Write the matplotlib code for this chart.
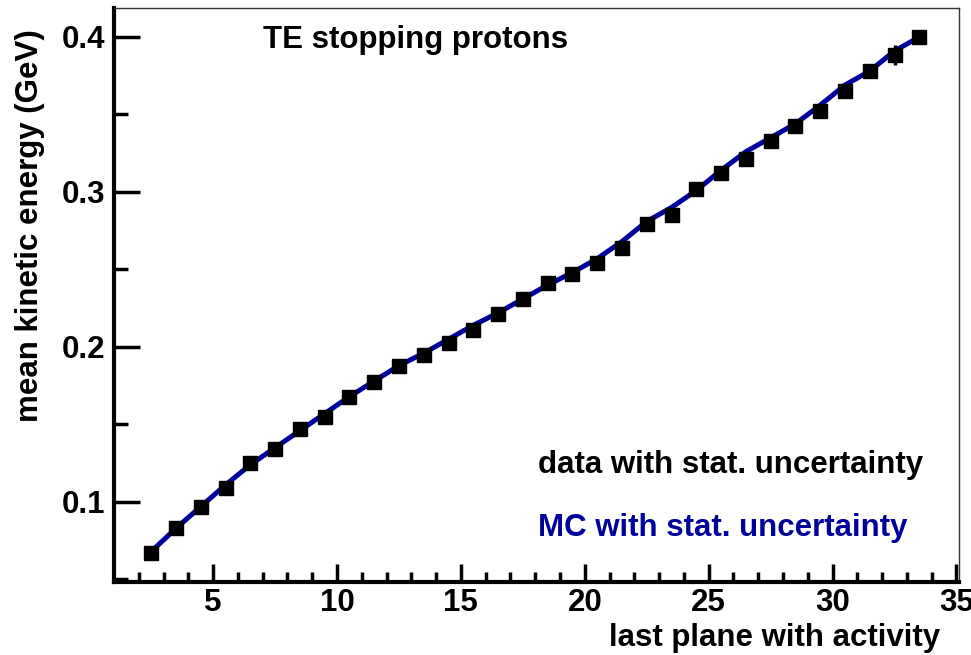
import matplotlib
matplotlib.use("Agg")
import matplotlib.pyplot as plt
import numpy as np

# --- données ---
plane = np.arange(2.5, 34.0, 1.0)
data_ke = [0.0673, 0.0832, 0.0970, 0.1088, 0.1254, 0.1340, 0.1469, 0.1546,
           0.1676, 0.1771, 0.1879, 0.1950, 0.2028, 0.2108, 0.2211, 0.2310,
           0.2411, 0.2469, 0.2545, 0.2637, 0.2794, 0.2852, 0.3017, 0.3125,
           0.3211, 0.3331, 0.3428, 0.3525, 0.3654, 0.3781, 0.3884, 0.3998]
data_err = [0.001, 0.001, 0.001, 0.001, 0.001, 0.001, 0.001, 0.001,
            0.001, 0.001, 0.001, 0.001, 0.001, 0.001, 0.001, 0.001,
            0.002, 0.002, 0.002, 0.002, 0.002, 0.002, 0.002, 0.002,
            0.003, 0.003, 0.003, 0.0045, 0.003, 0.003, 0.0065, 0.003]
mc_ke = [0.068, 0.083, 0.097, 0.111, 0.124, 0.135, 0.146, 0.157,
         0.168, 0.178, 0.188, 0.196, 0.205, 0.214, 0.222, 0.231,
         0.240, 0.248, 0.257, 0.268, 0.281, 0.290, 0.301, 0.314,
         0.326, 0.335, 0.344, 0.356, 0.369, 0.378, 0.391, 0.400]

mc_color = '#00009c'
fs = 22.5

plt.rcParams['font.family'] = ['Liberation Sans', 'DejaVu Sans']
plt.rcParams['font.weight'] = 'bold'

fig = plt.figure(figsize=(9.71, 6.55), dpi=100)
ax = fig.add_axes([0.1174, 0.1115, 0.8702, 0.8763])

# courbe MC puis points de données
ax.plot(plane, mc_ke, color=mc_color, lw=3.6, zorder=2)
ax.errorbar(plane, data_ke, yerr=data_err, fmt='s', color='black', ms=9.5,
            elinewidth=2.5, capsize=0, zorder=3)

ax.set_xlim(1.0, 35.1)
ax.set_ylim(0.0484, 0.4187)

# axes style ROOT
ax.set_xticks([5, 10, 15, 20, 25, 30, 35])
ax.set_xticks(np.arange(2, 36, 1), minor=True)
ax.set_yticks([0.1, 0.2, 0.3, 0.4])
ax.set_yticklabels(['0.1', '0.2', '0.3', '0.4'])
ax.set_yticks([0.05, 0.15, 0.25, 0.35], minor=True)
ax.tick_params(axis='x', which='major', direction='in', length=13, width=2.5,
               labelsize=fs, pad=4)
ax.tick_params(axis='x', which='minor', direction='in', length=7, width=2.5)
ax.tick_params(axis='y', which='major', direction='in', length=19, width=2.5,
               labelsize=fs, pad=6)
ax.tick_params(axis='y', which='minor', direction='in', length=10, width=2.5)

ax.spines['left'].set_linewidth(3)
ax.spines['bottom'].set_linewidth(3)
ax.spines['top'].set_linewidth(1)
ax.spines['right'].set_linewidth(1)
ax.spines['top'].set_color('#333333')
ax.spines['right'].set_color('#333333')

# textes
ax.text(7.03, 0.398, 'TE stopping protons', fontsize=fs, ha='left', va='center')
ax.text(18.13, 0.1239, 'data with stat. uncertainty', fontsize=fs,
        ha='left', va='center', color='black')
ax.text(18.13, 0.0832, 'MC with stat. uncertainty', fontsize=fs,
        ha='left', va='center', color=mc_color)

fig.text(0.031, 0.955, 'mean kinetic energy (GeV)', rotation=90, fontsize=fs,
         ha='center', va='top')
fig.text(0.968, 0.026, 'last plane with activity', fontsize=fs,
         ha='right', va='center')

fig.savefig('out.png', dpi=100)
